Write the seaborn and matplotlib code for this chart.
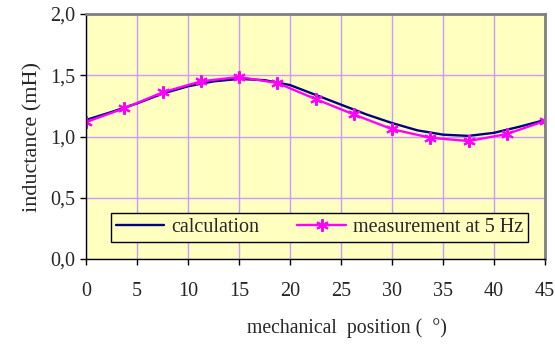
import matplotlib
matplotlib.use("Agg")
import matplotlib.pyplot as plt
import matplotlib.ticker as mticker
import seaborn as sns
import pandas as pd

# calculated inductance
calc_pos = [0, 2.5, 5, 7.5, 10, 12.5, 15, 17.5, 20, 22.5, 25, 27.5, 30, 32.5, 35, 37.5, 40, 42.5, 45]
calc_L = [1.135, 1.20, 1.27, 1.35, 1.41, 1.45, 1.47, 1.46, 1.42, 1.34, 1.26, 1.18,
          1.11, 1.05, 1.015, 1.005, 1.03, 1.08, 1.135]

# measurement at 5 Hz
meas_pos = [0, 3.75, 7.5, 11.25, 15, 18.75, 22.5, 26.25, 30, 33.75, 37.5, 41.25, 45]
meas_L = [1.118, 1.23, 1.36, 1.45, 1.486, 1.437, 1.306, 1.18, 1.06, 0.99, 0.963, 1.02, 1.127]

x_ticks = [0, 5, 10, 15, 20, 25, 30, 35, 40, 45]
y_ticks = [0.0, 0.5, 1.0, 1.5, 2.0]

sns.set_style("ticks", {"axes.facecolor": "#FFFFC0", "grid.color": "#CC99FF"})
plt.rcParams["font.family"] = ["Liberation Serif", "DejaVu Serif"]

calc_df = pd.DataFrame({"pos": calc_pos, "L": calc_L})
meas_df = pd.DataFrame({"pos": meas_pos, "L": meas_L})

fig = plt.figure(figsize=(5.55, 3.5), dpi=100)
ax = fig.add_axes([0.155, 0.26, 0.827, 0.70])

sns.lineplot(data=calc_df, x="pos", y="L", ax=ax, color="#000080", lw=1.7,
             label="calculation")
sns.lineplot(data=meas_df, x="pos", y="L", ax=ax, color="#FF00FF", lw=1.7,
             marker=(6, 2, 0), markersize=9, markeredgewidth=1.5,
             markeredgecolor="#FF00FF", label="measurement at 5 Hz")

ax.set_xlim(0, 45)
ax.set_ylim(0, 2.0)
ax.set_xticks(x_ticks)
ax.set_yticks(y_ticks)
ax.yaxis.set_major_formatter(mticker.FuncFormatter(lambda v, p: f"{v:.1f}".replace(".", ",")))
ax.grid(True, color="#CC99FF", lw=1)
ax.set_axisbelow(True)
ax.tick_params(labelsize=14.5, length=4.5, width=1, color="black")
ax.tick_params(axis="x", pad=12)
ax.tick_params(axis="y", pad=3)

for s in ["top", "right"]:
    ax.spines[s].set_color("#808080")
    ax.spines[s].set_linewidth(2)
for s in ["left", "bottom"]:
    ax.spines[s].set_color("black")
    ax.spines[s].set_linewidth(1)

ax.set_xlabel("mechanical  position (  °)", fontsize=14.2)
ax.xaxis.set_label_coords(0.569, -0.282)
ax.xaxis.label.set_verticalalignment("center")
ax.set_ylabel("inductance (mH)", fontsize=16, labelpad=6)

leg = ax.legend(loc="lower left", bbox_to_anchor=(0.0545, 0.069, 0.9085, 0.135),
                mode="expand", borderaxespad=0, ncol=2, fontsize=14.5, frameon=True,
                fancybox=False, framealpha=1, edgecolor="black", handlelength=2.4,
                handletextpad=0.35, borderpad=0.25)
leg.get_frame().set_linewidth(1)

fig.savefig("out.png", dpi=100)
